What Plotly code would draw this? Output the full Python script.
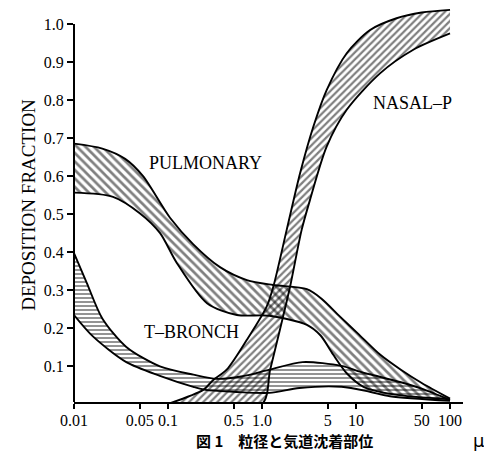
import plotly.graph_objects as go

# ---- data (particle diameter in microns, deposition fraction) ----
pulm_upper_x = [0.01, 0.02, 0.035, 0.054, 0.105, 0.186, 0.357, 0.69, 1.31, 3.0, 4.3, 6.8, 10.5, 18, 30, 50, 100]
pulm_upper_y = [0.685, 0.672, 0.645, 0.6, 0.49, 0.42, 0.36, 0.326, 0.313, 0.302, 0.277, 0.229, 0.185, 0.13, 0.09, 0.055, 0.014]
pulm_lower_x = [0.01, 0.026, 0.05, 0.082, 0.124, 0.26, 0.54, 1.2, 3.0, 4.2, 5.7, 8.0, 12, 25, 100]
pulm_lower_y = [0.556, 0.545, 0.502, 0.45, 0.371, 0.265, 0.234, 0.232, 0.208, 0.18, 0.13, 0.08, 0.045, 0.025, 0.012]

tb_upper_x = [0.01, 0.0137, 0.02, 0.036, 0.082, 0.186, 0.33, 0.6, 1.2, 2.7, 7, 11, 14, 30, 50, 100]
tb_upper_y = [0.397, 0.318, 0.225, 0.15, 0.099, 0.077, 0.066, 0.072, 0.09, 0.11, 0.1, 0.085, 0.078, 0.057, 0.04, 0.01]
tb_lower_x = [0.01, 0.016, 0.036, 0.082, 0.186, 0.25, 0.5, 1.2, 2.5, 7, 14, 23, 100]
tb_lower_y = [0.234, 0.177, 0.11, 0.074, 0.045, 0.037, 0.032, 0.029, 0.042, 0.045, 0.032, 0.02, 0.008]

nasal_upper_x = [0.1, 0.237, 0.303, 0.421, 0.687, 1.12, 1.32, 1.83, 2.54, 3.52, 4.87, 7.96, 14.1, 27, 50, 100]
nasal_upper_y = [0.0, 0.037, 0.063, 0.09, 0.168, 0.256, 0.309, 0.458, 0.607, 0.73, 0.826, 0.923, 0.984, 1.015, 1.03, 1.037]
nasal_lower_x = [0.1, 1.0, 1.22, 1.55, 1.99, 2.64, 3.24, 4.87, 7.96, 18, 40.7, 100]
nasal_lower_y = [0.0, 0.0, 0.09, 0.195, 0.309, 0.458, 0.537, 0.677, 0.774, 0.87, 0.932, 0.975]

x_tickvals = [0.01, 0.05, 0.1, 0.5, 1.0, 5, 10, 50, 100]
x_ticktext = ["0.01", "0.05", "0.1", "0.5", "1.0", "5", "10", "50", "100"]
y_tickvals = [0.1, 0.2, 0.3, 0.4, 0.5, 0.6, 0.7, 0.8, 0.9, 1.0]
y_ticktext = ["0.1", "0.2", "0.3", "0.4", "0.5", "0.6", "0.7", "0.8", "0.9", "1.0"]

bands = [
    ("PULMONARY", pulm_upper_x, pulm_upper_y, pulm_lower_x, pulm_lower_y, "\\", 6, 0.45),
    ("T-BRONCH", tb_upper_x, tb_upper_y, tb_lower_x, tb_lower_y, "-", 4, 0.42),
    ("NASAL-P", nasal_upper_x, nasal_upper_y, nasal_lower_x, nasal_lower_y, "/", 5, 0.45),
]

SERIF = "Liberation Serif, Times New Roman, serif"
LINE = dict(color="black", width=1.9, shape="spline", smoothing=0.8)

fig = go.Figure()
for name, ux, uy, lx, ly, shape, size, sol in bands:
    fig.add_trace(go.Scatter(x=lx, y=ly, mode="lines", line=LINE,
                             showlegend=False, hoverinfo="skip", name=name + " lower"))
    fig.add_trace(go.Scatter(
        x=ux, y=uy, mode="lines", fill="tonexty", name=name,
        line=LINE, fillcolor="rgba(0,0,0,0)",
        fillpattern=dict(shape=shape, fgcolor="black", bgcolor="rgba(0,0,0,0)",
                         size=size, solidity=sol, fillmode="overlay"),
        showlegend=False, hoverinfo="skip",
    ))

fig.update_layout(
    width=484, height=444,
    margin=dict(l=66, r=29, t=0, b=50),
    paper_bgcolor="white", plot_bgcolor="white",
    font=dict(family=SERIF, color="black", size=16),
    xaxis=dict(type="log", range=[-2, 2.138], showgrid=False, zeroline=False,
               showline=True, linecolor="black", linewidth=2,
               ticks="outside", ticklen=5, tickwidth=1.5, tickcolor="black",
               tickvals=x_tickvals, ticktext=x_ticktext, ticklabelstandoff=-2,
               tickfont=dict(family=SERIF, size=16)),
    yaxis=dict(range=[0.005, 1.042], showgrid=False, zeroline=False, showline=False,
               ticks="outside", ticklen=6, tickwidth=1.5, tickcolor="black",
               tickvals=y_tickvals, ticktext=y_ticktext,
               tickfont=dict(family=SERIF, size=16),
               title=dict(text="DEPOSITION FRACTION", font=dict(family=SERIF, size=19), standoff=3)),
    shapes=[dict(type="line", xref="paper", yref="y", x0=0, x1=0, y0=0.005, y1=1.0,
                 line=dict(color="black", width=2))],
    annotations=[
        dict(x=-0.606, y=0.634, xref="x", yref="y", text="PULMONARY", showarrow=False,
             font=dict(family=SERIF, size=18)),
        dict(x=-0.755, y=0.19, xref="x", yref="y", text="T–BRONCH", showarrow=False,
             font=dict(family=SERIF, size=18)),
        dict(x=1.596, y=0.792, xref="x", yref="y", text="NASAL–P", showarrow=False,
             font=dict(family=SERIF, size=18)),
        dict(x=1.06, y=-0.127, xref="paper", yref="paper", yanchor="bottom",
             borderpad=0, text="μ", showarrow=False, font=dict(family="DejaVu Sans", size=18)),
        dict(x=0.542, y=-0.127, xref="paper", yref="paper", yanchor="bottom",
             text="<b>図 1　粒径と気道沈着部位</b>", showarrow=False, borderpad=0,
             font=dict(family="Noto Sans CJK JP", size=15)),
    ],
)

fig.write_html("out.html")
